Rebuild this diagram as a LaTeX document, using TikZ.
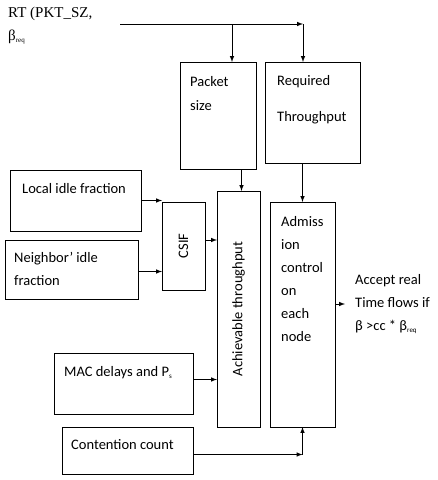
\documentclass[tikz,border=0pt]{standalone}
\usepackage{fontspec}
\setmainfont{Carlito}
\newfontfamily\rtfont{Liberation Serif}
\usetikzlibrary{arrows}
\usetikzlibrary{positioning}

\newcommand{\subreq}{\raisebox{-2pt}{\fontsize{7}{7}\selectfont req}}

\begin{document}
\begin{tikzpicture}[x=1pt, y=-1pt,
    box/.style={draw, line width=0.8pt, inner sep=0pt, outer sep=0pt},
    lbl/.style={anchor=west, inner sep=0pt, font=\fontsize{14.5}{23}\selectfont},
    arr/.style={-latex, line width=1pt}]
  \useasboundingbox (0, 0) rectangle (438, 480);

  % boxes
  \node[box, minimum width=76, minimum height=107] (pkt) at (218, 115.5) {};
  \node[box, minimum width=95, minimum height=101] (req) at (312.5, 112.5) {};
  \node[box, minimum width=43, minimum height=236] (ach) at (238.5, 309) {};
  \node[box, minimum width=65, minimum height=225] (adm) at (302.5, 314.5) {};
  \node[box, minimum width=131, minimum height=61] (loc) at (75.5, 200.5) {};
  \node[box, minimum width=133, minimum height=59] (nbr) at (71.5, 269.5) {};
  \node[box, minimum width=43, minimum height=88] (csif) at (183.5, 246) {};
  \node[box, minimum width=139, minimum height=61] (mac) at (123.5, 383.5) {};
  \node[box, minimum width=131, minimum height=47] (cnt) at (127.5, 450.5) {};

  % texts
  \node[lbl, font=\rtfont\fontsize{15}{23}\selectfont] (rt1) at (8, 14) {RT (PKT\_SZ,};
  \node[lbl, font=\rtfont\fontsize{15}{23}\selectfont] (rt2) at (8, 37) {β\subreq};
  \node[lbl] (pkt1) at (190, 82) {Packet};
  \node[lbl] (pkt2) at (190, 106) {size};
  \node[lbl] (req1) at (277, 82) {Required};
  \node[lbl] (req2) at (277, 118) {Throughput};
  \node[lbl, anchor=center, rotate=90] (achtxt) at (ach.center) {Achievable throughput};
  \node[lbl, anchor=center, rotate=90] (csiftxt) at (csif.center) {CSIF};
  \node[lbl] (loctxt) at (22, 189) {Local idle fraction};
  \node[lbl, align=left] (nbrtxt) at (14, 269) {Neighbor' idle\\fraction};
  \node[lbl, align=left] (admtxt) at (281, 279) {Admiss\\ion\\control\\on\\each\\node};
  \node[lbl] (mactxt) at (64, 373) {MAC delays and P\raisebox{-2pt}{\fontsize{7}{7}\selectfont s}};
  \node[lbl] (cnttxt) at (71, 445) {Contention count};
  \node[lbl, align=left, inner xsep=10pt] (acc) at (345, 304) {Accept real\\Time flows if\\β >cc * β\subreq};

  % connectors
  \coordinate (rt) at (120, 24);
  \coordinate (top) at (303, 24);
  \coordinate (br) at (232, 24);
  \draw[arr] (rt) -- (top);
  \draw[arr] (top) -- (top |- req.north);
  \draw[arr] (br) -- (br |- pkt.north);
  \draw[arr] ([xshift=3pt]ach.north |- pkt.south) -- ([xshift=3pt]ach.north);
  \draw[arr] (adm.north |- req.south) -- (adm.north);
  \draw[arr] (loc.east) -- (loc.east -| csif.west);
  \draw[arr] ([yshift=-2pt]nbr.east) -- ([yshift=-2pt]nbr.east -| csif.west);
  \draw[arr] ([yshift=6pt]csif.east) -- ([yshift=6pt]csif.east -| ach.west);
  \draw[arr] ([yshift=4pt]mac.east) -- ([yshift=4pt]mac.east -| ach.west);
  \draw[arr] ([yshift=-4pt]cnt.east) -- ([yshift=-4pt]cnt.east -| adm.south);
  \draw[arr] ([yshift=-4pt]cnt.east -| adm.south) -- (adm.south);
  \draw[arr] (adm.east |- acc.west) -- (acc.west);
\end{tikzpicture}
\end{document}
